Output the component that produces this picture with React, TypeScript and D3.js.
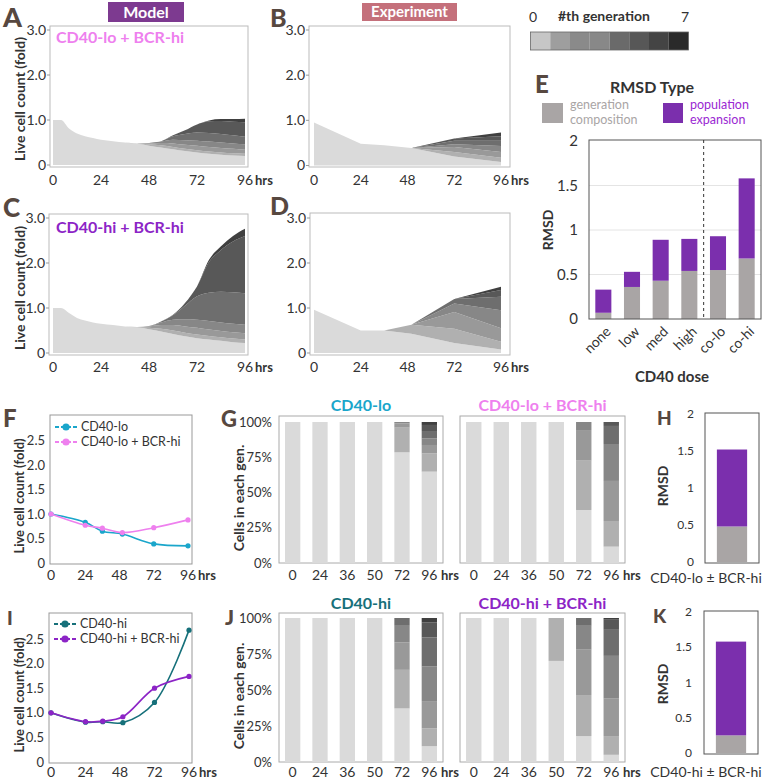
import React from 'react';
import * as d3 from 'd3';

const FONT = 'Lato, "Open Sans", "DejaVu Sans", sans-serif';
const INK = '#333333';
const LETTER = '#574840';

// colours per generation (0 .. 7)
const genColors = ['#dadada', '#b0b0b0', '#999999', '#878787', '#6e6e6e', '#585858', '#404040', '#272727'];
const legendColors = ['#c6c6c6', '#9e9e9e', '#8a8a8a', '#888888', '#6a6a6a', '#575757', '#444444', '#2a2a2a'];
const genKeys = ['g0', 'g1', 'g2', 'g3', 'g4', 'g5', 'g6', 'g7'];

const hourTicks = [0, 24, 48, 72, 96];

// model runs: live cells (fold) in each generation at each model time
const modelTimes = [0, 4, 8, 12, 16, 20, 24, 30, 36, 42, 48, 54, 60, 66, 72, 78, 84, 90, 96];
const modelLoBcr = [
  [1.0], [1.0], [0.81], [0.7], [0.64], [0.6], [0.56], [0.53], [0.5], [0.47, 0.01],
  [0.43, 0.03, 0.02, 0.01],
  [0.39, 0.05, 0.05, 0.03, 0.01],
  [0.35, 0.05, 0.08, 0.08, 0.08, 0.02],
  [0.31, 0.05, 0.09, 0.1, 0.14, 0.08],
  [0.28, 0.05, 0.1, 0.11, 0.18, 0.18],
  [0.25, 0.05, 0.1, 0.12, 0.19, 0.26, 0.02],
  [0.23, 0.05, 0.1, 0.12, 0.19, 0.29, 0.04],
  [0.21, 0.05, 0.1, 0.12, 0.18, 0.3, 0.06],
  [0.2, 0.05, 0.09, 0.12, 0.17, 0.32, 0.08],
];
const modelHiBcr = [
  [1.0], [1.0], [0.89], [0.78], [0.72], [0.68], [0.65], [0.62], [0.59], [0.57, 0.01],
  [0.53, 0.03, 0.03, 0.01],
  [0.48, 0.06, 0.08, 0.06, 0.02],
  [0.42, 0.08, 0.12, 0.12, 0.1, 0.01],
  [0.37, 0.08, 0.14, 0.16, 0.3, 0.06],
  [0.33, 0.08, 0.15, 0.18, 0.52, 0.22],
  [0.3, 0.08, 0.14, 0.19, 0.63, 0.68, 0.05],
  [0.27, 0.08, 0.14, 0.19, 0.68, 0.93, 0.08],
  [0.24, 0.08, 0.14, 0.19, 0.7, 1.13, 0.12],
  [0.22, 0.08, 0.14, 0.19, 0.7, 1.27, 0.16],
];

// experiment: same quantity at the sampled times
const expTimes = [0, 24, 36, 50, 72, 96];
const expLoBcr = [
  [0.95], [0.48], [0.45], [0.39],
  [0.2, 0.1, 0.11, 0.06, 0.08, 0.05],
  [0.08, 0.09, 0.13, 0.13, 0.12, 0.1, 0.08],
];
const expHiBcr = [
  [0.96], [0.5], [0.5], [0.43, 0.2],
  [0.22, 0.32, 0.37, 0.19, 0.1],
  [0.08, 0.17, 0.3, 0.4, 0.3, 0.15, 0.07],
];

// F / I total counts
const lineTimes = [0, 24, 36, 50, 72, 96];
const cd40lo = [1.0, 0.83, 0.65, 0.59, 0.39, 0.35];
const cd40loBcr = [1.0, 0.77, 0.71, 0.62, 0.72, 0.88];
const cd40hi = [1.0, 0.81, 0.82, 0.8, 1.21, 2.68];
const cd40hiBcr = [1.0, 0.82, 0.83, 0.92, 1.5, 1.74];

// G / J fraction of cells in each generation
const barTimes = ['0', '24', '36', '50', '72', '96'];
const fracLo = [[1], [1], [1], [1],
  [0.785, 0.175, 0.03, 0.01],
  [0.648, 0.13, 0.059, 0.047, 0.052, 0.043, 0.021]];
const fracLoBcr = [[1], [1], [1], [1],
  [0.376, 0.35, 0.217, 0.057],
  [0.116, 0.182, 0.284, 0.262, 0.128, 0.028]];
const fracHi = [[1], [1], [1], [1],
  [0.372, 0.268, 0.19, 0.116, 0.054],
  [0.11, 0.123, 0.19, 0.24, 0.202, 0.105, 0.03]];
const fracHiBcr = [[1], [1], [1], [0.702, 0.298],
  [0.18, 0.285, 0.315, 0.166, 0.054],
  [0.05, 0.13, 0.26, 0.297, 0.181, 0.07, 0.012]];

// RMSD split into generation composition + population expansion
const doses = ['none', 'low', 'med', 'high', 'co-lo', 'co-hi'];
const rmsdGen = [0.07, 0.36, 0.43, 0.54, 0.55, 0.68];
const rmsdPop = [0.26, 0.17, 0.46, 0.36, 0.38, 0.9];
const rmsdLoBcr = { gen: 0.48, pop: 1.04 };
const rmsdHiBcr = { gen: 0.25, pop: 1.33 };

const GREY = '#a9a5a5';
const PURPLE = '#7b2fad';

const C_LO = '#1aa6cb';
const C_LOBCR = '#ee80ee';
const C_HI = '#16707a';
const C_HIBCR = '#8c24c6';

type Box = { x0: number; x1: number; y0: number; y1: number };

const Frame = ({ f, stroke = '#bbbbbb' }: { f: Box; stroke?: string }) => (
  <rect x={f.x0} y={f.y0} width={f.x1 - f.x0} height={f.y1 - f.y0} fill="none" stroke={stroke} strokeWidth={1} />
);

const Letter = ({ x, y, ch, size }: any) => (
  <text x={x} y={y} fontSize={size} fontWeight="900" fill={LETTER}>{ch}</text>
);

const VLabel = ({ x, y, text, size = 14 }: any) => (
  <text transform={`translate(${x},${y}) rotate(-90)`} textAnchor="middle" dominantBaseline="central"
    fontSize={size} fontWeight="bold" fill={INK}>{text}</text>
);

function rowsFrom(times: any[], cells: number[][]) {
  return times.map((t, i) => {
    const r: any = { t };
    genKeys.forEach((k, g) => { r[k] = cells[i][g] ?? 0; });
    return r;
  });
}

function AreaPanel(p: any) {
  const { frame, xRange, yRange, times, cells, curve, xTickY } = p;
  const x = d3.scaleLinear().domain([0, 96]).range(xRange);
  const y = d3.scaleLinear().domain([0, 3]).range(yRange);
  const layers = d3.stack().keys(genKeys)(rowsFrom(times, cells));
  const area = d3.area<any>()
    .x((d: any) => x(d.data.t))
    .y0((d: any) => y(d[0]))
    .y1((d: any) => y(d[1]))
    .curve(curve);
  return (
    <g>
      <Frame f={frame} />
      {layers.map((s: any, i: number) => (
        <path key={i} d={area(s) || ''} fill={genColors[i]} />
      ))}
      {[0, 1, 2, 3].map((v) => (
        <g key={v}>
          <line x1={frame.x0 - 3} x2={frame.x0} y1={y(v)} y2={y(v)} stroke="#999" />
          <text x={frame.x0 - 4} y={y(v)} dy="0.35em" textAnchor="end" fontSize={14} fill={INK}>
            {v === 0 ? '0' : v.toFixed(1)}
          </text>
        </g>
      ))}
      {hourTicks.map((h) => (
        <text key={h} x={x(h)} y={xTickY} dy="0.35em" textAnchor="middle" fontSize={14} fill={INK}>{h}</text>
      ))}
      <text x={x(96) + 10} y={xTickY} dy="0.35em" fontSize={13} fontWeight="bold" fill={INK}>hrs</text>
    </g>
  );
}

function LinePanel(p: any) {
  const { frame, xRange, yRange, series, legendY } = p;
  const x = d3.scaleLinear().domain([0, 96]).range(xRange);
  const y = d3.scaleLinear().domain([0, 2.5]).range(yRange);
  const line = d3.line<number>()
    .x((_d, i) => x(lineTimes[i]))
    .y((d) => y(d))
    .curve(d3.curveCatmullRom.alpha(0.5));
  return (
    <g>
      <Frame f={frame} stroke="#999" />
      {[0, 0.5, 1, 1.5, 2, 2.5].map((v) => (
        <text key={v} x={frame.x0 - 5} y={y(v)} dy="0.35em" textAnchor="end" fontSize={13} fill={INK}>
          {v === 0 ? '0' : v.toFixed(1)}
        </text>
      ))}
      {series.map((s: any, k: number) => (
        <g key={k}>
          <path d={line(s.values) || ''} fill="none" stroke={s.color} strokeWidth={1.6} />
          {s.values.map((v: number, i: number) => (
            <circle key={i} cx={x(lineTimes[i])} cy={y(v)} r={2.6} fill={s.color} />
          ))}
        </g>
      ))}
      {series.map((s: any, k: number) => (
        <g key={'l' + k}>
          <line x1={frame.x0 + 5} x2={frame.x0 + 27} y1={legendY[k]} y2={legendY[k]} stroke={s.color}
            strokeWidth={2.2} strokeDasharray="4,2" />
          <circle cx={frame.x0 + 16} cy={legendY[k]} r={3.6} fill={s.color} />
          <text x={frame.x0 + 31} y={legendY[k]} dy="0.35em" fontSize={12.5} fill={INK}>{s.label}</text>
        </g>
      ))}
      {hourTicks.map((h) => (
        <text key={h} x={x(h)} y={p.xTickY} dy="0.35em" textAnchor="middle" fontSize={14} fill={INK}>{h}</text>
      ))}
      <text x={x(96) + 10} y={p.xTickY} dy="0.35em" fontSize={13} fontWeight="bold" fill={INK}>hrs</text>
    </g>
  );
}

function BarPanel(p: any) {
  const { frame, yRange, fractions, title, titleColor, titleY, xTickY, showY } = p;
  const x = d3.scaleBand().domain(barTimes).range([frame.x0, frame.x1]).paddingInner(0.44).paddingOuter(0.22);
  const y = d3.scaleLinear().domain([0, 1]).range(yRange);
  const layers = d3.stack().keys(genKeys)(rowsFrom(barTimes, fractions));
  const mid = (frame.x0 + frame.x1) / 2;
  return (
    <g>
      <Frame f={frame} stroke="#aaaaaa" />
      {layers.map((s: any, g: number) =>
        s.map((d: any, i: number) =>
          d[1] - d[0] > 0 ? (
            <rect key={g + '-' + i} x={x(barTimes[i])} width={x.bandwidth()} y={y(d[1])}
              height={y(d[0]) - y(d[1])} fill={genColors[g]} />
          ) : null
        )
      )}
      {showY && [0, 0.25, 0.5, 0.75, 1].map((v) => (
        <text key={v} x={frame.x0 - 7} y={y(v)} dy="0.35em" textAnchor="end" fontSize={13} fill={INK}>
          {Math.round(v * 100) + '%'}
        </text>
      ))}
      <text x={mid} y={titleY} dy="0.35em" textAnchor="middle" fontSize={16} fontWeight="bold" fill={titleColor}>
        {title}
      </text>
      {barTimes.map((t) => (
        <text key={t} x={(x(t) as number) + x.bandwidth() / 2} y={xTickY} dy="0.35em" textAnchor="middle"
          fontSize={14} fill={INK}>{t}</text>
      ))}
      <text x={(x('96') as number) + x.bandwidth() + 4} y={xTickY} dy="0.35em" fontSize={13} fontWeight="bold"
        fill={INK}>hrs</text>
    </g>
  );
}

function RmsdBars(p: any) {
  const { frame, yRange, cats, gen, pop, tickSize, tickX, grid } = p;
  const x = d3.scaleBand().domain(cats).range([frame.x0, frame.x1]).paddingInner(0.44).paddingOuter(0.22);
  const y = d3.scaleLinear().domain([0, 2]).range(yRange);
  const rows = cats.map((c: string, i: number) => ({ c, gen: gen[i], pop: pop[i] }));
  const layers = d3.stack().keys(['gen', 'pop'])(rows as any);
  const fills = [GREY, PURPLE];
  return (
    <g>
      {grid && [0.5, 1, 1.5].map((v) => (
        <line key={v} x1={frame.x0} x2={frame.x1} y1={y(v)} y2={y(v)} stroke="#e4e4e4" />
      ))}
      {layers.map((s: any, k: number) =>
        s.map((d: any, i: number) => (
          <rect key={k + '-' + i} x={x(cats[i])} width={x.bandwidth()} y={y(d[1])}
            height={y(d[0]) - y(d[1])} fill={fills[k]} />
        ))
      )}
      <Frame f={frame} stroke="#555" />
      {[0, 0.5, 1, 1.5, 2].map((v) => (
        <text key={v} x={tickX} y={y(v)} dy="0.35em" textAnchor="end" fontSize={tickSize} fill={INK}>{v}</text>
      ))}
    </g>
  );
}

export default function App() {
  const fA = { x0: 50, x1: 248, y0: 26, y1: 167 };
  const fB = { x0: 309, x1: 510, y0: 26, y1: 167 };
  const fC = { x0: 49, x1: 248, y0: 214, y1: 355 };
  const fD = { x0: 310, x1: 510, y0: 213, y1: 355 };
  const fE = { x0: 589, x1: 761, y0: 140, y1: 319 };

  const xE = d3.scaleBand().domain(doses).range([fE.x0, fE.x1]).paddingInner(0.44).paddingOuter(0.22);
  const dashX = ((xE('high') as number) + xE.bandwidth() + (xE('co-lo') as number)) / 2;

  return (
    <div style={{ position: 'absolute', left: 0, top: 0 }}>
      <svg width={770} height={780} style={{ display: 'block', fontFamily: FONT }}>
        {/* header boxes */}
        <rect x={108} y={2} width={76} height={20} fill="#7d3a90" />
        <text x={146} y={12} dy="0.36em" textAnchor="middle" fontSize={16} fontWeight="bold" fill="#fff">Model</text>
        <rect x={362} y={3} width={95} height={18} fill="#c4707b" />
        <text x={409.5} y={12} dy="0.36em" textAnchor="middle" fontSize={15} fontWeight="bold" fill="#fff">Experiment</text>

        {/* generation legend */}
        <text x={533} y={22} textAnchor="middle" fontSize={14} fill={INK}>0</text>
        <text x={558} y={21} fontSize={14} fontWeight="bold" fill={INK}>#th generation</text>
        <text x={685} y={22} textAnchor="middle" fontSize={14} fill={INK}>7</text>
        {legendColors.map((c, i) => (
          <rect key={i} x={530.5 + i * 19.75} y={32} width={19.75} height={18} fill={c} />
        ))}
        <rect x={530.5} y={32} width={158} height={18} fill="none" stroke="#666" strokeWidth={0.8} />

        {/* A-D */}
        <AreaPanel frame={fA} xRange={[53, 245]} yRange={[165, 30]} times={modelTimes} cells={modelLoBcr}
          curve={d3.curveMonotoneX} xTickY={180} />
        <AreaPanel frame={fB} xRange={[314, 501]} yRange={[165.5, 30]} times={expTimes} cells={expLoBcr}
          curve={d3.curveLinear} xTickY={180} />
        <AreaPanel frame={fC} xRange={[53, 245]} yRange={[353, 218]} times={modelTimes} cells={modelHiBcr}
          curve={d3.curveMonotoneX} xTickY={367} />
        <AreaPanel frame={fD} xRange={[314, 501]} yRange={[353, 218]} times={expTimes} cells={expHiBcr}
          curve={d3.curveLinear} xTickY={367} />
        <text x={56} y={43} fontSize={16} fontWeight="bold" fill={C_LOBCR}>CD40-lo + BCR-hi</text>
        <text x={56} y={233} fontSize={16} fontWeight="bold" fill={C_HIBCR}>CD40-hi + BCR-hi</text>
        <VLabel x={19} y={99} text="Live cell count (fold)" />
        <VLabel x={19} y={288} text="Live cell count (fold)" />

        {/* E */}
        <text x={652} y={87} dy="0.35em" textAnchor="middle" fontSize={16} fontWeight="bold" fill={INK}>RMSD Type</text>
        <rect x={542} y={103} width={21} height={20} fill={GREY} />
        <text x={570} y={105} dy="0.35em" fontSize={12.5} fill={GREY}>generation</text>
        <text x={570} y={120} dy="0.35em" fontSize={12.5} fill={GREY}>composition</text>
        <rect x={663} y={103} width={20} height={20} fill={PURPLE} />
        <text x={690} y={105} dy="0.35em" fontSize={12.5} fill="#9a28d2">population</text>
        <text x={690} y={120} dy="0.35em" fontSize={12.5} fill="#9a28d2">expansion</text>
        <RmsdBars frame={fE} yRange={[319, 141]} cats={doses} gen={rmsdGen} pop={rmsdPop}
          tickSize={15} tickX={578} grid />
        <line x1={dashX} x2={dashX} y1={fE.y0} y2={fE.y1} stroke="#333" strokeDasharray="3,3" />
        {doses.map((d) => (
          <text key={d} transform={`translate(${(xE(d) as number) + xE.bandwidth() / 2 + 5},${329}) rotate(-45)`}
            textAnchor="end" dy="0.35em" fontSize={14} fill={INK}>{d}</text>
        ))}
        <text x={672} y={377} dy="0.35em" textAnchor="middle" fontSize={15} fontWeight="bold" fill={INK}>CD40 dose</text>
        <VLabel x={547} y={230} text="RMSD" />

        {/* F */}
        <LinePanel frame={{ x0: 50, x1: 192, y0: 415, y1: 564 }} xRange={[51, 188]} yRange={[563, 440.5]}
          series={[
            { values: cd40lo, color: C_LO, label: 'CD40-lo' },
            { values: cd40loBcr, color: C_LOBCR, label: 'CD40-lo + BCR-hi' },
          ]}
          legendY={[427, 442]} xTickY={575} />
        <VLabel x={19} y={496} text="Live cell count (fold)" size={13} />

        {/* I */}
        <LinePanel frame={{ x0: 49, x1: 192, y0: 613, y1: 763 }} xRange={[51, 189]} yRange={[762, 639]}
          series={[
            { values: cd40hi, color: C_HI, label: 'CD40-hi' },
            { values: cd40hiBcr, color: C_HIBCR, label: 'CD40-hi + BCR-hi' },
          ]}
          legendY={[624, 639]} xTickY={772} />
        <VLabel x={19} y={695} text="Live cell count (fold)" size={13} />

        {/* G */}
        <BarPanel frame={{ x0: 279, x1: 443, y0: 416, y1: 563 }} yRange={[563, 422]} fractions={fracLo}
          title="CD40-lo" titleColor={C_LO} titleY={405} xTickY={575} showY />
        <BarPanel frame={{ x0: 460, x1: 625, y0: 416, y1: 563 }} yRange={[563, 422]} fractions={fracLoBcr}
          title="CD40-lo + BCR-hi" titleColor={C_LOBCR} titleY={405} xTickY={575} />
        <VLabel x={238} y={498} text="Cells in each gen." />

        {/* J */}
        <BarPanel frame={{ x0: 279, x1: 443, y0: 613, y1: 762 }} yRange={[762, 618]} fractions={fracHi}
          title="CD40-hi" titleColor={C_HI} titleY={603} xTickY={772} showY />
        <BarPanel frame={{ x0: 460, x1: 625, y0: 613, y1: 762 }} yRange={[762, 618]} fractions={fracHiBcr}
          title="CD40-hi + BCR-hi" titleColor={C_HIBCR} titleY={603} xTickY={772} />
        <VLabel x={238} y={696} text="Cells in each gen." />

        {/* H, K */}
        <RmsdBars frame={{ x0: 705, x1: 759, y0: 413, y1: 563 }} yRange={[562, 414]} cats={['CD40-lo ± BCR-hi']}
          gen={[rmsdLoBcr.gen]} pop={[rmsdLoBcr.pop]} tickSize={12} tickX={694} />
        <VLabel x={662} y={486} text="RMSD" />
        <text x={706} y={578} dy="0.35em" textAnchor="middle" fontSize={14} fill={INK}>CD40-lo ± BCR-hi</text>
        <RmsdBars frame={{ x0: 704, x1: 758, y0: 611, y1: 754 }} yRange={[753, 612]} cats={['CD40-hi ± BCR-hi']}
          gen={[rmsdHiBcr.gen]} pop={[rmsdHiBcr.pop]} tickSize={12} tickX={692} />
        <VLabel x={662} y={684} text="RMSD" />
        <text x={706} y={772} dy="0.35em" textAnchor="middle" fontSize={14} fill={INK}>CD40-hi ± BCR-hi</text>

        {/* panel letters */}
        <Letter x={3} y={27} ch="A" size={27} />
        <Letter x={270} y={27} ch="B" size={25} />
        <Letter x={3} y={217} ch="C" size={26} />
        <Letter x={270} y={215} ch="D" size={25} />
        <Letter x={535} y={93} ch="E" size={24} />
        <Letter x={3} y={427} ch="F" size={24} />
        <Letter x={221} y={427} ch="G" size={22} />
        <Letter x={657} y={425} ch="H" size={19} />
        <Letter x={7} y={625} ch="I" size={19} />
        <Letter x={225} y={625} ch="J" size={21} />
        <Letter x={653} y={623} ch="K" size={19} />
      </svg>
    </div>
  );
}
